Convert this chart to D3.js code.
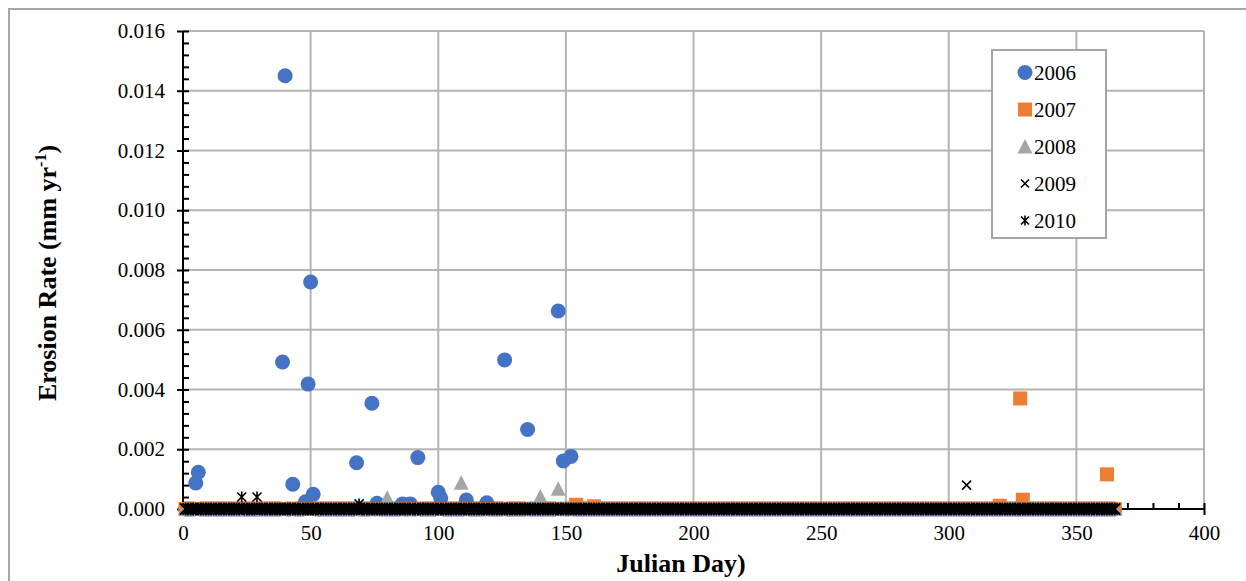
<!DOCTYPE html>
<html><head><meta charset="utf-8">
<script src="https://cdn.jsdelivr.net/npm/d3@7"></script>
<style>body{margin:0;background:#fff}svg{display:block}svg text{font-family:"Liberation Serif","Times New Roman",serif}</style>
</head><body>
<svg id="chart" width="1246" height="581"></svg>
<script>
// ---- data ----
const seriesNames = ["2006","2007","2008","2009","2010"];
const firstDay = 1, lastDay = 365;           // every day of each year is recorded (zeros form the band at 0)
// nonzero readings: [julian day, erosion rate]
const s2006 = [[5,0.00087],[6,0.00123],[39,0.00492],[40,0.0145],[43,0.00083],[48,0.00024],[49,0.00418],
  [50,0.0076],[51,0.00049],[68,0.00155],[74,0.00354],[76,0.00019],[86,0.00017],[89,0.00017],[92,0.00172],
  [100,0.00056],[101,0.00036],[111,0.0003],[119,0.00021],[126,0.00499],[135,0.00266],[147,0.00663],
  [149,0.00161],[152,0.00176]];
const s2007 = [[154,0.00014],[161,0.00009],[320,0.00011],[328,0.0037],[329,0.00031],[362,0.00116]];
const s2008 = [[80,0.00038],[109,0.00088],[140,0.00042],[147,0.00068]];
const s2009 = [[307,0.0008]];
const s2010 = [[23,0.0004],[29,0.0004],[69,0.00017]];
const xTicks = [0,50,100,150,200,250,300,350,400];
const yTicks = [0,0.002,0.004,0.006,0.008,0.010,0.012,0.014,0.016];

const colors = ["#4472C4","#ED7D31","#A5A5A5","#000000","#000000"];
const rawSeries = [s2006,s2007,s2008,s2009,s2010];

function fullSeries(points){
  const m = new Map(points.map(p=>[p[0],p[1]]));
  const out = [];
  for(let d=firstDay; d<=lastDay; d++) out.push([d, m.has(d)?m.get(d):0]);
  return out;
}
const series = rawSeries.map(fullSeries);

const svg = d3.select("#chart");
const x = d3.scaleLinear().domain([0,400]).range([183,1204]);
const y = d3.scaleLinear().domain([0,0.016]).range([509,31]);
const font = "'Liberation Serif','Times New Roman',serif";

// outer frame
svg.append("rect").attr("x",9).attr("y",9).attr("width",1260).attr("height",600)
  .attr("fill","none").attr("stroke","#a6a6a6").attr("stroke-width",2);

// grid
const grid = svg.append("g").attr("stroke","#b4b4b4").attr("stroke-width",2);
grid.selectAll("line.h").data(yTicks.slice(1)).join("line")
  .attr("x1",x(0)).attr("x2",x(400)).attr("y1",d=>y(d)).attr("y2",d=>y(d));
grid.selectAll("line.v").data(xTicks.slice(1)).join("line")
  .attr("x1",d=>x(d)).attr("x2",d=>x(d)).attr("y1",y(0)).attr("y2",y(0.016));

// axes
const yAxis = svg.append("g").attr("transform",`translate(${x(0)},0)`)
  .call(d3.axisLeft(y).tickValues(yTicks).tickSize(6).tickPadding(12).tickFormat(d3.format(".3f")));
const yMinor = svg.append("g").attr("transform",`translate(${x(0)},0)`)
  .call(d3.axisRight(y).tickValues(d3.range(0,0.01601,0.0004)).tickSize(6).tickFormat(""));
const xAxis = svg.append("g").attr("transform",`translate(0,${y(0)})`)
  .call(d3.axisBottom(x).tickValues(xTicks).tickSize(6).tickPadding(10).tickFormat(d3.format("d")));
const xMinor = svg.append("g").attr("transform",`translate(0,${y(0)})`)
  .call(d3.axisTop(x).tickValues(d3.range(0,401,10)).tickSize(6).tickFormat(""));
[yAxis,yMinor,xAxis,xMinor].forEach(g=>{
  g.attr("font-family",null);
  g.selectAll("line").attr("stroke","#000").attr("stroke-width",2);
  g.select("path.domain").remove();
});
svg.append("line").attr("x1",x(0)).attr("x2",x(0)).attr("y1",y(0)).attr("y2",y(0.016)).attr("stroke","#000").attr("stroke-width",2);
svg.append("line").attr("x1",x(0)).attr("x2",x(400)).attr("y1",y(0)).attr("y2",y(0)).attr("stroke","#000").attr("stroke-width",2);
svg.selectAll(".tick text").style("font-family",font).attr("font-size",21).attr("fill","#000");

// markers
function drawMarker(g, i, cx, cy, s){
  const c = colors[i];
  const k = s || 5.5;
  if(i===0) g.append("circle").attr("cx",cx).attr("cy",cy).attr("r",7.5).attr("fill",c);
  else if(i===1) g.append("rect").attr("x",cx-7).attr("y",cy-7).attr("width",14).attr("height",14).attr("fill",c);
  else if(i===2) g.append("path").attr("d",`M${cx},${cy-7.5}L${cx+7.5},${cy+7}L${cx-7.5},${cy+7}Z`).attr("fill",c);
  else if(i===3) g.append("path").attr("d",`M${cx-k},${cy-k}L${cx+k},${cy+k}M${cx+k},${cy-k}L${cx-k},${cy+k}`)
      .attr("stroke",c).attr("stroke-width",1.6).attr("fill","none");
  else g.append("path").attr("d",`M${cx-k},${cy-k}L${cx+k},${cy+k}M${cx+k},${cy-k}L${cx-k},${cy+k}M${cx},${cy-k-1}L${cx},${cy+k+1}`)
      .attr("stroke",c).attr("stroke-width",1.6).attr("fill","none");
}
const marks = svg.append("g");
series.forEach((s,i)=>{
  const g = marks.append("g");
  s.forEach(d=>drawMarker(g,i,x(d[0]),y(d[1]), d[1]>0 ? 4.5 : 5.5));
});

// legend
const lg = svg.append("g");
lg.append("rect").attr("x",992).attr("y",50).attr("width",114).attr("height",188)
  .attr("fill","#fff").attr("stroke","#a6a6a6").attr("stroke-width",2);
seriesNames.forEach((n,i)=>{
  const cy = 72.5 + i*37;
  drawMarker(lg,i,1025,cy,4);
  lg.append("text").attr("x",1034).attr("y",cy+7).style("font-family",font).attr("font-size",21).text(n);
});

// axis titles
svg.append("text").attr("x",681).attr("y",572).attr("text-anchor","middle")
  .style("font-family",font).attr("font-weight","bold").attr("font-size",26).text("Julian Day)");
const yt = svg.append("text").attr("transform","translate(56,273) rotate(-90)").attr("text-anchor","middle")
  .style("font-family",font).attr("font-weight","bold").attr("font-size",26);
yt.append("tspan").text("Erosion Rate (mm yr");
yt.append("tspan").attr("font-size",16).attr("dy",-10).text("-1");
yt.append("tspan").attr("dy",10).text(")");
</script>
</body></html>
